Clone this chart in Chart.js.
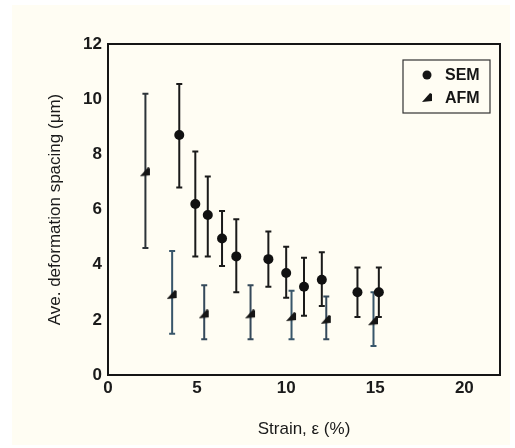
<!DOCTYPE html>
<html>
<head>
<meta charset="utf-8">
<script src="https://cdn.jsdelivr.net/npm/chart.js@4.4.1/dist/chart.umd.min.js"></script>
<style>
    html, body { margin: 0; padding: 0; background: #fff; }
    #panel { position: absolute; left: 12px; top: 5px; width: 498px; height: 440px; background: #fffdf3; }
    #wrap { position: absolute; left: 0; top: 0; width: 515px; height: 448px; }
</style>
</head>
<body>
<div id="panel"></div>
<div id="wrap"><canvas id="chart" width="515" height="448"></canvas></div>
<script>
// SEM measurements: strain (%), mean spacing and error bar ends (um)
const semStrain = [4.0, 4.9, 5.6, 6.4, 7.2, 9.0, 10.0, 11.0, 12.0, 14.0, 15.2];
const semMean   = [8.7, 6.2, 5.8, 4.95, 4.3, 4.2, 3.7, 3.2, 3.45, 3.0, 3.0];
const semLow    = [6.8, 4.3, 4.3, 3.95, 3.0, 3.2, 2.8, 2.15, 2.5, 2.1, 2.1];
const semHigh   = [10.55, 8.1, 7.2, 5.95, 5.65, 5.2, 4.65, 4.25, 4.45, 3.9, 3.9];

// AFM measurements
const afmStrain = [2.1, 3.6, 5.4, 8.0, 10.3, 12.25, 14.9];
const afmMean   = [7.35, 2.9, 2.2, 2.2, 2.1, 2.0, 1.95];
const afmLow    = [4.6, 1.5, 1.3, 1.3, 1.3, 1.3, 1.05];
const afmHigh   = [10.2, 4.5, 3.25, 3.25, 3.05, 2.85, 3.0];

const xTicks = [0, 5, 10, 15, 20];
const yTicks = [0, 2, 4, 6, 8, 10, 12];

const fontFamily = "'Liberation Sans', Arial, sans-serif";

// Wedge marker used for AFM points
function wedgeMarker(color) {
    const c = document.createElement('canvas');
    c.width = 11;
    c.height = 10;
    const g = c.getContext('2d');
    g.fillStyle = color;
    g.beginPath();
    g.moveTo(0, 9);
    g.lineTo(10, 8);
    g.lineTo(10, 1);
    g.lineTo(8, 0);
    g.closePath();
    g.fill();
    return c;
}

const afmMarker = wedgeMarker('#151515');

function toPoints(xs, ys) {
    return xs.map((x, i) => ({ x: x, y: ys[i] }));
}

// Error bars drawn through the scales
const errorBars = {
    id: 'errorBars',
    beforeDatasetsDraw(chart) {
        const ctx = chart.ctx;
        const xs = chart.scales.x;
        const ys = chart.scales.y;
        chart.data.datasets.forEach(ds => {
            ctx.save();
            ctx.lineWidth = 2;
            ds.data.forEach((p, i) => {
                const px = xs.getPixelForValue(p.x);
                const lo = ys.getPixelForValue(ds.low[i]);
                const hi = ys.getPixelForValue(ds.high[i]);
                ctx.strokeStyle = Array.isArray(ds.barColor) ? ds.barColor[i] : ds.barColor;
                ctx.beginPath();
                ctx.moveTo(px, lo);
                ctx.lineTo(px, hi);
                ctx.moveTo(px - 3, lo);
                ctx.lineTo(px + 3, lo);
                ctx.moveTo(px - 3, hi);
                ctx.lineTo(px + 3, hi);
                ctx.stroke();
            });
            ctx.restore();
        });
    }
};

// Frame round the plot and the boxed legend in the top right corner
const frameAndLegend = {
    id: 'frameAndLegend',
    afterDraw(chart) {
        const ctx = chart.ctx;
        const a = chart.chartArea;
        ctx.save();
        ctx.strokeStyle = '#151515';
        ctx.lineWidth = 2;
        ctx.strokeRect(a.left, a.top, a.right - a.left, a.bottom - a.top);

        const w = 87, h = 53;
        const left = a.right - 10 - w;
        const top = a.top + 16;
        ctx.lineWidth = 1.2;
        ctx.strokeStyle = '#333';
        ctx.strokeRect(left, top, w, h);

        ctx.font = 'bold 16px ' + fontFamily;
        ctx.fillStyle = '#151515';
        ctx.textBaseline = 'middle';
        chart.data.datasets.forEach((ds, i) => {
            const y = top + 15 + i * 23;
            if (ds.pointStyle === 'circle') {
                ctx.beginPath();
                ctx.arc(left + 24, y, 4.5, 0, Math.PI * 2);
                ctx.fill();
            } else {
                ctx.drawImage(ds.pointStyle, left + 19, y - 5);
            }
            ctx.fillText(ds.label, left + 42, y + 1);
        });
        ctx.restore();
    }
};

new Chart(document.getElementById('chart'), {
    type: 'scatter',
    data: {
        datasets: [{
            label: 'SEM',
            data: toPoints(semStrain, semMean),
            low: semLow,
            high: semHigh,
            barColor: '#1a1a1a',
            pointStyle: 'circle',
            pointRadius: 5,
            backgroundColor: '#111',
            borderColor: '#111',
            borderWidth: 0
        }, {
            label: 'AFM',
            data: toPoints(afmStrain, afmMean),
            low: afmLow,
            high: afmHigh,
            barColor: ['#2c3338', '#38566a', '#35495a', '#35495a', '#38566a', '#35495a', '#38566a'],
            pointStyle: afmMarker,
            pointRadius: 5,
            backgroundColor: '#111',
            borderColor: '#111'
        }]
    },
    options: {
        responsive: false,
        animation: false,
        layout: { padding: { left: 40, right: 15, top: 44, bottom: 0 } },
        plugins: {
            legend: { display: false },
            tooltip: { enabled: false }
        },
        scales: {
            x: {
                type: 'linear',
                min: 0,
                max: 22,
                afterFit(scale) { scale.height = 73; },
                afterBuildTicks(scale) { scale.ticks = xTicks.map(v => ({ value: v })); },
                grid: { display: false, drawTicks: false },
                border: { display: false },
                ticks: {
                    padding: 3,
                    color: '#1a1a1a',
                    font: { family: fontFamily, size: 17, weight: 'bold' }
                },
                title: {
                    display: true,
                    text: 'Strain, \u03b5 (%)',
                    color: '#1a1a1a',
                    padding: { top: 0, bottom: 8 },
                    font: { family: fontFamily, size: 17 }
                }
            },
            y: {
                type: 'linear',
                min: 0,
                max: 12,
                afterFit(scale) { scale.width = 68; },
                afterBuildTicks(scale) { scale.ticks = yTicks.map(v => ({ value: v })); },
                grid: { display: false, drawTicks: false },
                border: { display: false },
                ticks: {
                    padding: 6,
                    color: '#1a1a1a',
                    font: { family: fontFamily, size: 17, weight: 'bold' }
                },
                title: {
                    display: true,
                    text: 'Ave. deformation spacing (\u03bcm)',
                    color: '#1a1a1a',
                    padding: { top: 5, bottom: 0 },
                    font: { family: fontFamily, size: 17 }
                }
            }
        }
    },
    plugins: [errorBars, frameAndLegend]
});
</script>
</body>
</html>
